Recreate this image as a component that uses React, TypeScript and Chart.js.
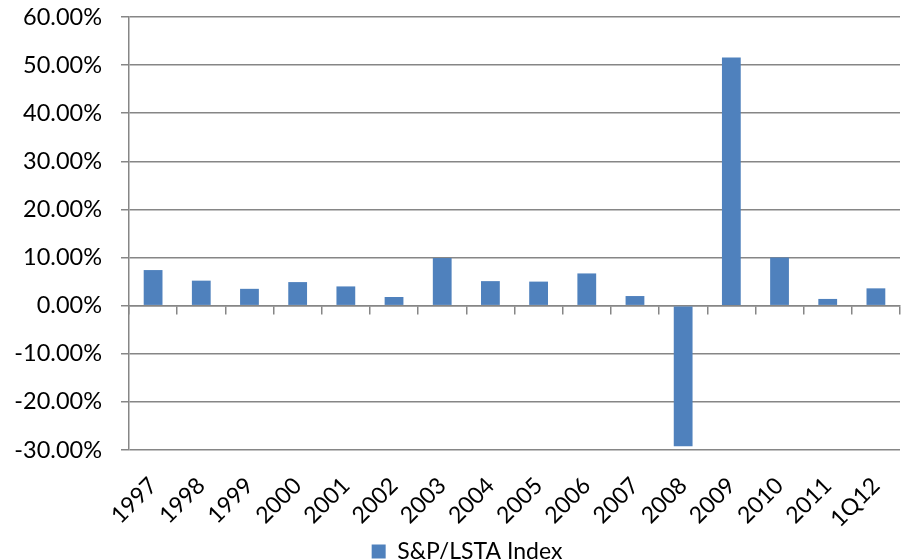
import React, { useEffect, useRef } from "react";
import { Chart, registerables } from "chart.js";

Chart.register(...registerables);

const categories = ["1997","1998","1999","2000","2001","2002","2003","2004","2005","2006","2007","2008","2009","2010","2011","1Q12"];
const indexReturns = [7.4, 5.2, 3.5, 4.9, 4.0, 1.8, 9.9, 5.1, 5.0, 6.7, 2.0, -29.2, 51.6, 10.0, 1.4, 3.6];
const seriesName = "S&P/LSTA Index";
const yMin = -30;
const yMax = 60;
const yStep = 10;

const FONT = "Lato, 'Open Sans', sans-serif";
const GRID = "#868686";
const BAR = "#4F81BD";

const shiftLegend = {
  id: "shiftLegend",
  afterLayout(chart: any) {
    const l = chart.legend;
    if (l) {
      l.left += 17;
      l.right += 17;
    }
  },
};

export default function App() {
  const ref = useRef<HTMLCanvasElement | null>(null);
  useEffect(() => {
    document.body.style.margin = "0";
    const ctx = ref.current!;
    const chart = new Chart(ctx, {
      type: "bar",
      plugins: [shiftLegend],
      data: {
        labels: categories,
        datasets: [
          {
            label: seriesName,
            data: indexReturns,
            backgroundColor: BAR,
            borderWidth: 0,
            barPercentage: 0.39,
            categoryPercentage: 1,
          },
        ],
      },
      options: {
        responsive: false,
        animation: false,
        layout: { autoPadding: false, padding: { left: 0, right: 2, top: 17, bottom: -14 } },
        plugins: {
          legend: {
            position: "bottom",
            labels: {
              boxWidth: 14,
              boxHeight: 14,
              padding: 4,
              color: "#000",
              font: { family: FONT, size: 23 },
            },
          },
          tooltip: { enabled: false },
        },
        scales: {
          x: {
            position: "bottom",
            grid: { display: false },
            border: { display: false },
            afterFit: (s: any) => { s.height = 86; s.paddingLeft = 0; s.paddingRight = 0; },
            ticks: {
              color: "#000",
              font: { family: FONT, size: 23 },
              maxRotation: 45,
              minRotation: 45,
              autoSkip: false,
              padding: 14,
            },
          },
          x2: {
            type: "category",
            position: { y: 0 },
            afterFit: (s: any) => { s.height = 0; s.paddingLeft = 0; s.paddingRight = 0; },
            grid: {
              offset: true,
              drawOnChartArea: false,
              drawTicks: true,
              tickLength: 8,
              color: GRID,
              lineWidth: 1.5,
            },
            border: { display: true, color: GRID, width: 1.5 },
            ticks: { display: false },
          },
          y: {
            min: yMin,
            max: yMax,
            afterFit: (s: any) => { s.width = 129; s.paddingTop = 0; s.paddingBottom = 0; },
            ticks: {
              stepSize: yStep,
              color: "#000",
              font: { family: FONT, size: 23.5 },
              padding: 19,
              callback: (v: any) => Number(v).toFixed(2) + "%",
            },
            grid: { color: GRID, lineWidth: 1.5, tickLength: 8 },
            border: { display: true, color: GRID, width: 1.5 },
          },
        },
      },
    });
    return () => chart.destroy();
  }, []);
  return (
    <div style={{ position: "absolute", left: 0, top: 0, width: 902, height: 559 }}>
      <canvas ref={ref} width={902} height={559} style={{ width: 902, height: 559 }} />
    </div>
  );
}
